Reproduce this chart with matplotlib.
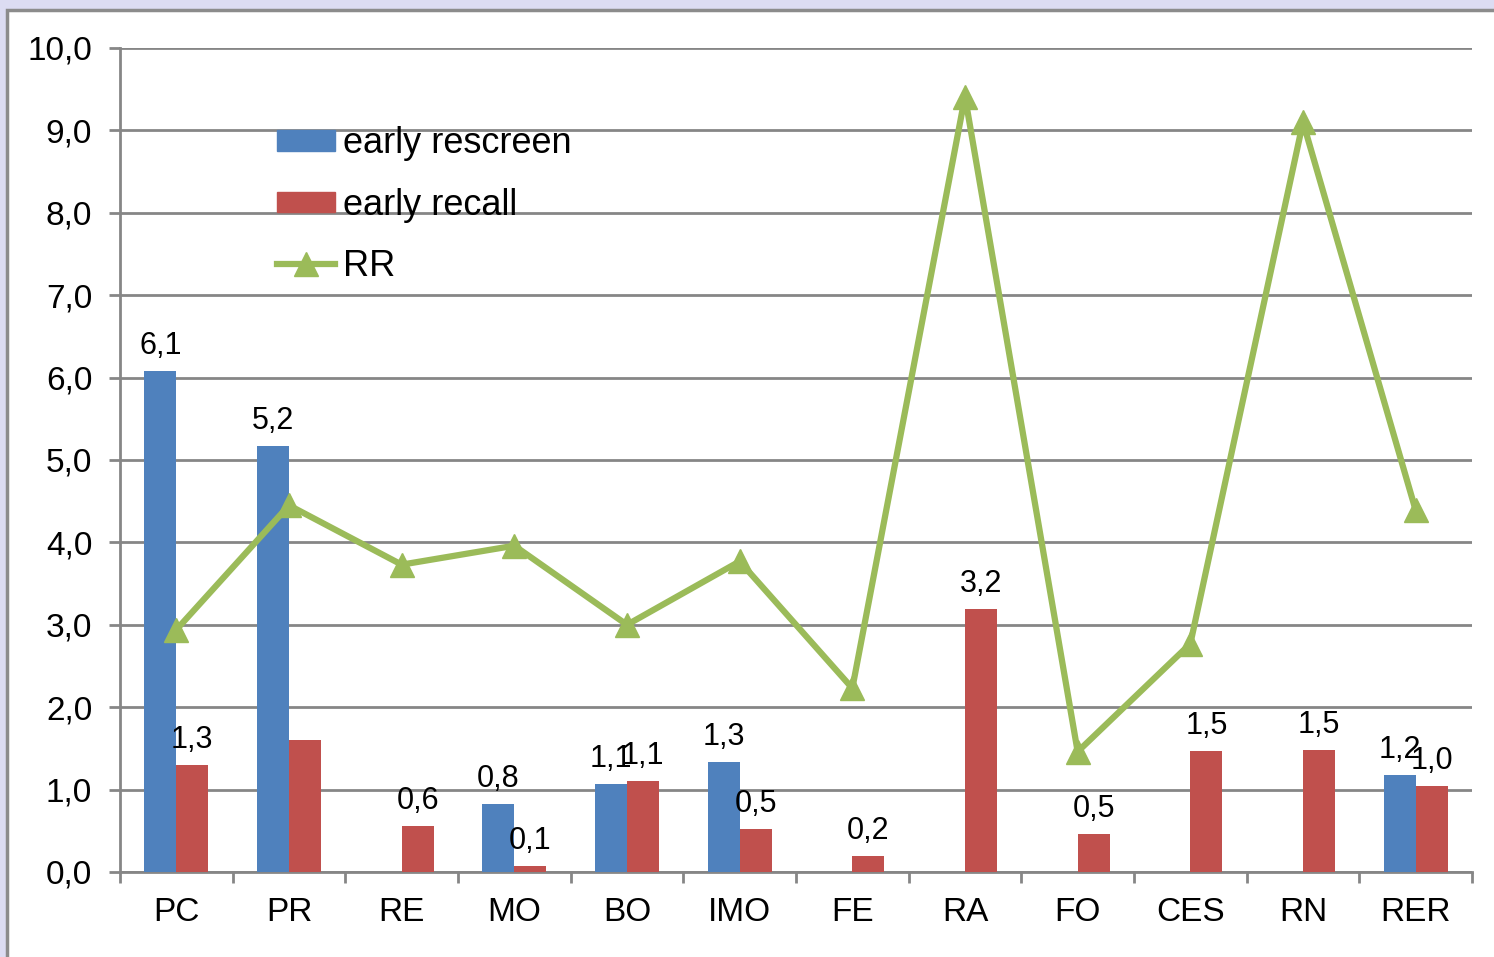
import matplotlib.pyplot as plt
from matplotlib.patches import Rectangle
from matplotlib.lines import Line2D
from matplotlib.patches import Patch
import numpy as np

plt.rcParams['font.family'] = ['Liberation Sans', 'DejaVu Sans']

categories = ['PC', 'PR', 'RE', 'MO', 'BO', 'IMO', 'FE', 'RA', 'FO', 'CES', 'RN', 'RER']
early_rescreen = [6.08, 5.17, 0, 0.83, 1.07, 1.34, 0, 0, 0, 0, 0, 1.18]
early_recall = [1.30, 1.60, 0.56, 0.07, 1.10, 0.52, 0.19, 3.19, 0.46, 1.47, 1.48, 1.04]
rr = [2.94, 4.45, 3.73, 3.96, 3.00, 3.77, 2.23, 9.41, 1.46, 2.77, 9.10, 4.39]

# which bars get a data label (PR early recall has none in the original)
rescreen_labels = [v > 0 for v in early_rescreen]
recall_labels = [True, False] + [True] * 10

blue = '#4F81BD'
red = '#C0504D'
green = '#9BBB59'
grey = '#868686'

fig = plt.figure(figsize=(14.94, 9.57), dpi=100)
fig.patch.set_facecolor('#dcdcf2')

# white chart frame
frame = Rectangle((7 / 1494, -0.05), 1.1, (957 - 10) / 957 + 0.05,
                  transform=fig.transFigure, facecolor='white',
                  edgecolor='#8c8c8c', linewidth=2.5, zorder=-10)
fig.patches.append(frame)

ax = fig.add_axes([120 / 1494, 85 / 957, 1352 / 1494, 824 / 957])
ax.set_facecolor('none')

x = np.arange(len(categories))
w = 0.284
b1 = ax.bar(x - w / 2, early_rescreen, w, color=blue, zorder=3)
b2 = ax.bar(x + w / 2, early_recall, w, color=red, zorder=3)
ax.plot(x, rr, color=green, linewidth=4.5, marker='^', markersize=17,
        zorder=4)

for xi, v, show in zip(x, early_rescreen, rescreen_labels):
    if show:
        ax.text(xi - w / 2, v + 0.12, f'{v:.1f}'.replace('.', ','),
                ha='center', va='bottom', fontsize=22, zorder=5)
for xi, v, show in zip(x, early_recall, recall_labels):
    if show:
        ax.text(xi + w / 2, v + 0.12, f'{v:.1f}'.replace('.', ','),
                ha='center', va='bottom', fontsize=22, zorder=5)

ax.set_xlim(-0.5, len(categories) - 0.5)
ax.set_ylim(0, 10)
ax.set_yticks(np.arange(0, 10.1, 1))
ax.set_yticklabels([f'{v:.1f}'.replace('.', ',') for v in np.arange(0, 10.1, 1)],
                   fontsize=24)
ax.yaxis.grid(True, color=grey, linewidth=2, zorder=0)
ax.set_axisbelow(True)
ax.set_xticks(x)
ax.set_xticklabels(categories, fontsize=24)
ax.set_xticks(np.arange(-0.5, len(categories), 1), minor=True)
ax.tick_params(axis='x', which='major', length=0, pad=18)
ax.tick_params(axis='x', which='minor', length=8, width=2, color=grey)
ax.tick_params(axis='y', length=8, width=2, color=grey, pad=12)

for s in ['top', 'right']:
    ax.spines[s].set_visible(False)
for s in ['left', 'bottom']:
    ax.spines[s].set_color(grey)
    ax.spines[s].set_linewidth(2)

handles = [Patch(color=blue), Patch(color=red),
           Line2D([], [], color=green, linewidth=4.5, marker='^', markersize=17)]
ax.legend(handles, ['early rescreen', 'early recall', 'RR'],
          loc='upper left', bbox_to_anchor=(0.116, 0.905), frameon=False,
          borderaxespad=0, borderpad=0,
          fontsize=26, handlelength=1.6, handleheight=0.5,
          handletextpad=0.22, labelspacing=0.73)

fig.savefig('out.png', dpi=100, facecolor=fig.get_facecolor())
